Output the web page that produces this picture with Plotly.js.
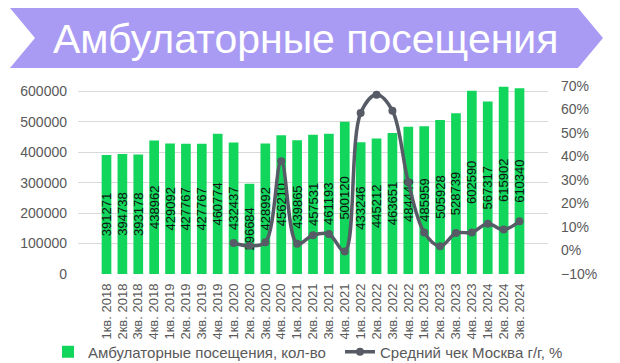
<!DOCTYPE html>
<html>
<head>
<meta charset="utf-8">
<script src="https://cdn.plot.ly/plotly-3.0.1.min.js"></script>
<style>html,body{margin:0;padding:0;background:#fff;}#chart{width:620px;height:363px;}</style>
</head>
<body>
<div id="chart"></div>
<script>
const categories = ["1кв. 2018","2кв. 2018","3кв. 2018","4кв. 2018","1кв. 2019","2кв. 2019","3кв. 2019","4кв. 2019","1кв. 2020","2кв. 2020","3кв. 2020","4кв. 2020","1кв. 2021","2кв. 2021","3кв. 2021","4кв. 2021","1кв. 2022","2кв. 2022","3кв. 2022","4кв. 2022","1кв. 2023","2кв. 2023","3кв. 2023","4кв. 2023","1кв. 2024","2кв. 2024","3кв. 2024"];
const visits = [391271,394738,393178,438962,429092,427767,427767,460774,432437,296684,428992,456210,439865,457531,461193,500120,433246,445212,463651,484446,485959,505928,528739,602590,567317,615902,610340];
const avgCheck = [null,null,null,null,null,null,null,null,3.2,2.0,3.5,38,2.9,6.5,7.0,-0.4,58.5,66.3,59.5,29,7.7,1.8,7.4,7.7,11.4,8.9,12.4];
const titleText = "Амбулаторные посещения";
const barName = "Амбулаторные посещения, кол-во";
const lineName = "Средний чек Москва г/г, %";

const W = 620, H = 363;
const M = {l: 78, r: 72, t: 86, b: 89, autoexpand: false};
const pw = W - M.l - M.r, ph = H - M.t - M.b;
const px = x => (x - M.l) / pw;
const py = y => (H - M.b - y) / ph;

const bannerPts = [[10,8],[578,8],[603,38],[578,68],[10,68],[35,38]];
const bannerPath = 'M' + bannerPts.map(p => px(p[0]).toFixed(4) + ',' + py(p[1]).toFixed(4)).join(' L') + ' Z';

const font = "Liberation Sans, Arial, sans-serif";
const gray = "#595959";

const traces = [
  {
    type: 'bar', x: categories, y: visits, name: barName, legend: 'legend',
    marker: {color: '#12d65b'},
    text: visits.map(String), textposition: 'inside', insidetextanchor: 'middle',
    textangle: -90, constraintext: 'none', cliponaxis: false,
    textfont: {family: font, size: 13, color: '#111'},
    hoverinfo: 'skip'
  },
  {
    type: 'scatter', mode: 'lines+markers', x: categories, y: avgCheck, yaxis: 'y2',
    name: lineName, connectgaps: false, legend: 'legend2',
    line: {color: '#565b66', width: 3.5, shape: 'spline', smoothing: 1},
    marker: {color: '#565b66', size: 8},
    hoverinfo: 'skip'
  }
];

const legendBase = {
  orientation: 'h', xanchor: 'left', y: py(352), yanchor: 'middle',
  font: {size: 15, color: gray}, bgcolor: 'rgba(0,0,0,0)'
};

const layout = {
  width: W, height: H,
  margin: M,
  paper_bgcolor: '#fff', plot_bgcolor: '#fff',
  font: {family: font, color: gray},
  showlegend: true,
  bargap: 0.39,
  xaxis: {
    type: 'category', tickmode: 'linear', tick0: 0, dtick: 1,
    tickangle: -90, tickfont: {size: 13, color: gray},
    showgrid: false, showline: false, ticks: '', ticklabelstandoff: 6, automargin: false
  },
  yaxis: {
    range: [0, 618000], tickvals: [0,100000,200000,300000,400000,500000,600000],
    ticktext: ["0","100000","200000","300000","400000","500000","600000"],
    showgrid: true, gridcolor: '#d9d9d9', gridwidth: 1, zeroline: false, automargin: false,
    showline: false, ticks: '', tickfont: {size: 14, color: gray}, ticklabelstandoff: 10
  },
  yaxis2: {
    overlaying: 'y', side: 'right', range: [-10, 70], dtick: 10, automargin: false,
    ticksuffix: '%', showgrid: false, zeroline: false, showline: false, ticks: '',
    tickfont: {size: 14, color: gray}, ticklabelstandoff: 12
  },
  legend: Object.assign({}, legendBase, {x: px(48)}),
  legend2: Object.assign({}, legendBase, {x: px(340)}),
  shapes: [{
    type: 'path', xref: 'paper', yref: 'paper', path: bannerPath,
    fillcolor: 'rgb(169,155,243)', line: {width: 0}, layer: 'above'
  }],
  annotations: [{
    xref: 'paper', yref: 'paper', x: px(305), y: py(39), xanchor: 'center', yanchor: 'middle',
    text: titleText, showarrow: false,
    font: {family: font, size: 41, color: '#ffffff'}
  }]
};

Plotly.newPlot('chart', traces, layout, {displayModeBar: false, staticPlot: true});
</script>
</body>
</html>
